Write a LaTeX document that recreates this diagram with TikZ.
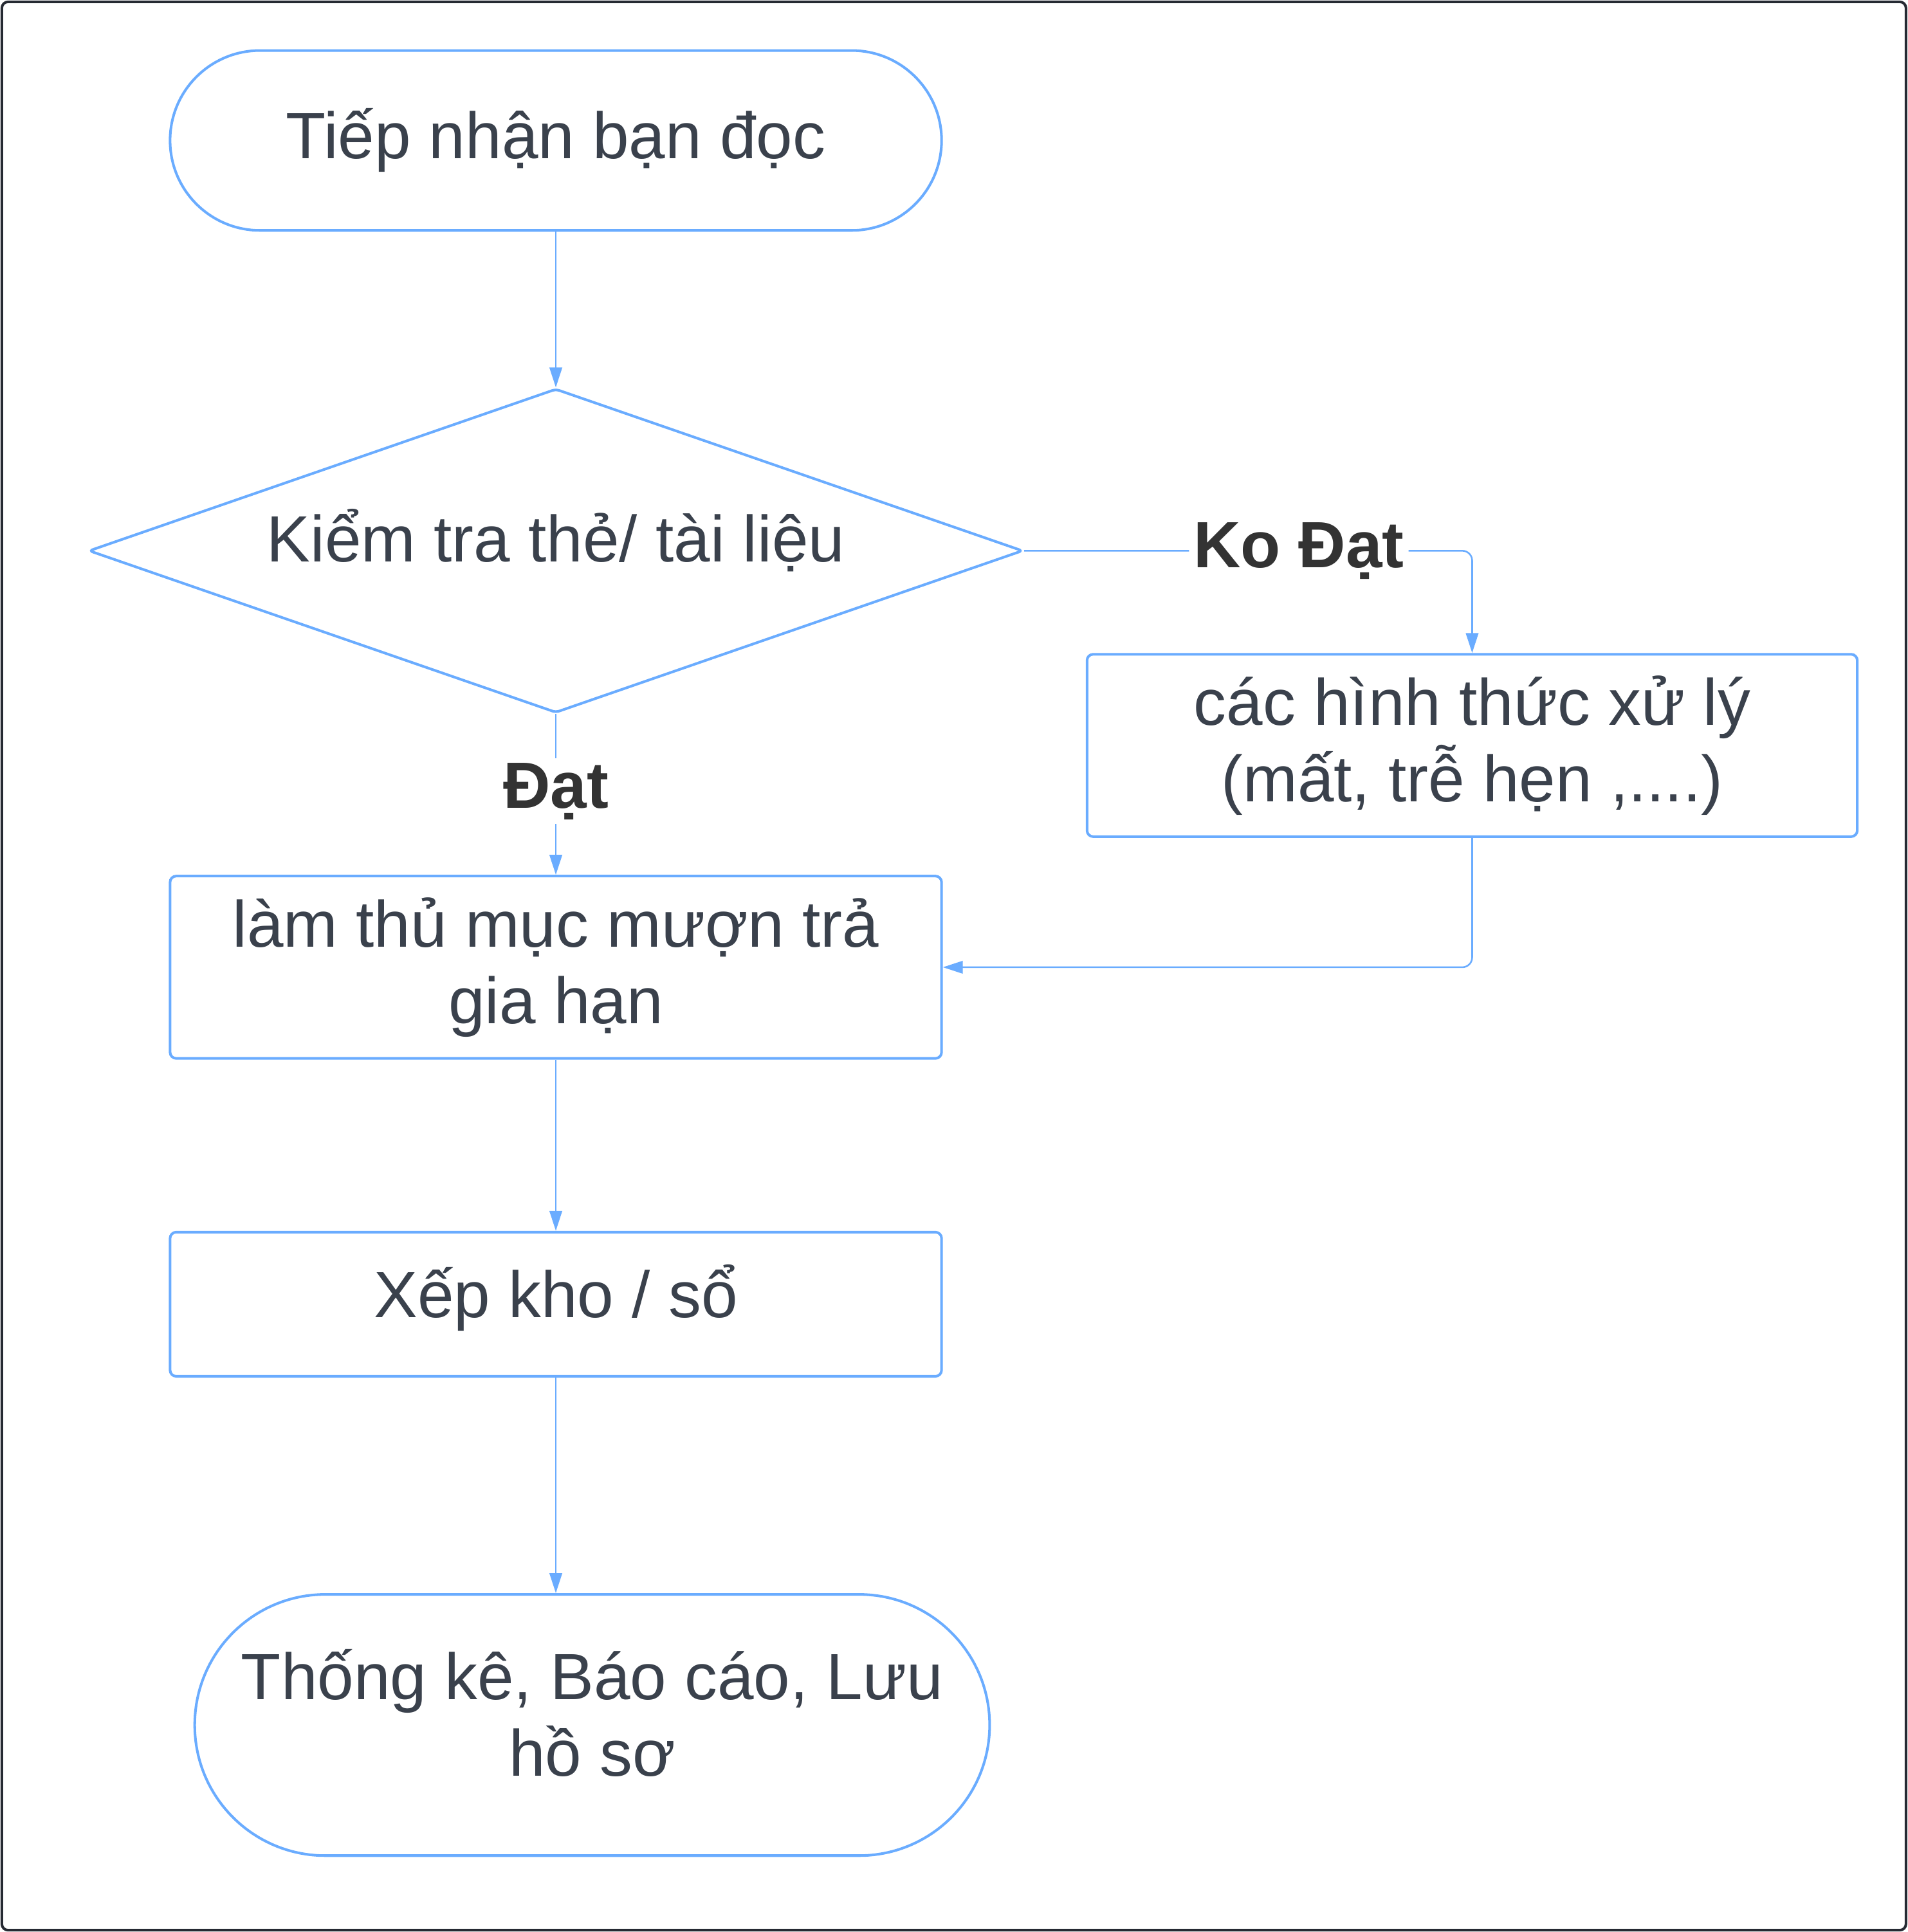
\documentclass[tikz,border=0pt]{standalone}
\usepackage{fontspec}
\setmainfont{Liberation Sans}
\usetikzlibrary{shapes.geometric,arrows.meta}
\definecolor{lineblue}{HTML}{6AACFF}
\definecolor{txtgray}{HTML}{3A414C}
\definecolor{lblgray}{HTML}{333333}
\definecolor{framegray}{HTML}{262A33}
\begin{document}
\begin{tikzpicture}[>={Triangle[length=4.6pt,width=2.9pt]}]
        \tikzstyle{step shape}=[draw=lineblue,line width=0.6pt,text=txtgray,font=\fontsize{15.1}{17.6}\selectfont,align=center,inner sep=0pt]
        \tikzstyle{terminal}=[step shape,rectangle]
        \tikzstyle{process}=[step shape,rectangle,rounded corners=0.05cm]
        \tikzstyle{decision}=[step shape,diamond,aspect=2.88,rounded corners=0.03cm]
        \tikzstyle{edge}=[draw=lineblue,line width=0.38pt,->]
        \tikzstyle{answer}=[fill=white,text=lblgray,inner sep=1pt,font=\fontsize{15.1}{17.6}\selectfont\bfseries]
        % frame
        \useasboundingbox (0,0) rectangle (15.48,-15.68);
        \draw[framegray,line width=0.6pt,rounded corners=0.05cm] (0.015,-0.015) rectangle (15.465,-15.665);
        % steps
        \node [terminal,rounded corners=0.73cm,minimum width=6.26cm,minimum height=1.46cm] (start) at (4.51,-1.14) {Tiếp nhận bạn đọc};
        \node [decision,minimum width=7.58cm,minimum height=2.63cm,text depth=0.25cm] (check) at (4.51,-4.47) {Kiểm tra thẻ/ tài liệu};
        \node [process,minimum width=6.25cm,minimum height=1.48cm] (handle) at (11.945,-6.05) {các hình thức xử lý\\(mất, trễ hẹn ,....)};
        \node [process,minimum width=6.26cm,minimum height=1.48cm] (borrow) at (4.51,-7.85) {làm thủ mục mượn trả\\gia hạn};
        \node [process,minimum width=6.26cm,minimum height=1.17cm,text depth=0.21cm] (store) at (4.51,-10.585) {Xếp kho / sổ};
        \node [terminal,rounded corners=1.06cm,minimum width=6.45cm,minimum height=2.12cm,text depth=0.2cm] (report) at (4.805,-14.0) {Thống kê, Báo cáo, Lưu\\hồ sơ};
        % connectors
        \path[edge] (start) -- (check);
        \path[edge,rounded corners=0.08cm] (check.east) -- node[answer,pos=0.613] {Ko Đạt} (check.east -| handle.north) -- (handle.north);
        \path[edge] (check.south) -- node[answer,pos=0.48] {Đạt} (borrow.north);
        \path[edge,rounded corners=0.08cm] (handle.south) |- (borrow.east);
        \path[edge] (borrow) -- (store);
        \path[edge] (store.south) -- (store.south |- report.north);
      \end{tikzpicture}
\end{document}
